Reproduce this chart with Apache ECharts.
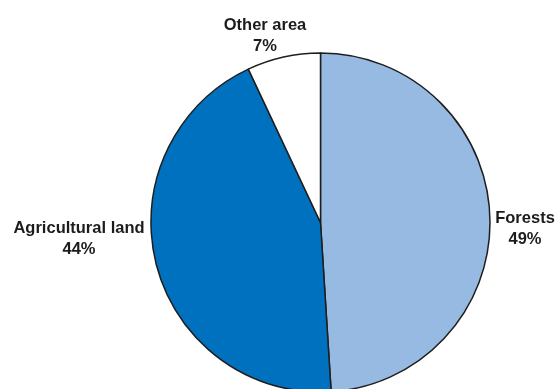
<!DOCTYPE html>
<html>
<head>
<meta charset="utf-8">
<script src="https://cdn.jsdelivr.net/npm/echarts@6/dist/echarts.min.js"></script>
<style>
  html, body { margin: 0; padding: 0; background: #fff; }
  #chart { width: 558px; height: 389px; }
</style>
</head>
<body>
<div id="chart"></div>
<script>
// Land use shares
const categories = ['Forests', 'Agricultural land', 'Other area'];
const shares = [49, 44, 7];
const colors = ['#97BAE3', '#0071BF', '#FFFFFF'];

// Label anchor points (x, y) for each slice, text centred on them
const labelSpots = [
  { x: 525, y: 229 },
  { x: 79, y: 239 },
  { x: 265, y: 36 }
];

const chart = echarts.init(document.getElementById('chart'), null, { renderer: 'canvas' });

chart.setOption({
  animation: false,
  backgroundColor: '#ffffff',
  series: [{
    type: 'pie',
    center: [320.5, 222.5],
    radius: [0, 169.5],
    startAngle: 90,
    clockwise: true,
    avoidLabelOverlap: false,
    data: categories.map((name, i) => ({
      name,
      value: shares[i],
      itemStyle: { color: colors[i] }
    })),
    itemStyle: { borderColor: '#1e1e1e', borderWidth: 1.5 },
    label: {
      show: true,
      position: 'outside',
      formatter: p => p.name + '\n' + p.value + '%',
      fontFamily: 'Liberation Sans, Arial, sans-serif',
      fontWeight: 'bold',
      fontSize: 16.5,
      lineHeight: 21,
      color: '#1c1c1c',
      align: 'center'
    },
    labelLine: { show: false },
    labelLayout: params => {
      const s = labelSpots[params.dataIndex];
      return { x: s.x, y: s.y, align: 'center', verticalAlign: 'middle' };
    },
    emphasis: { disabled: true }
  }]
});
</script>
</body>
</html>
